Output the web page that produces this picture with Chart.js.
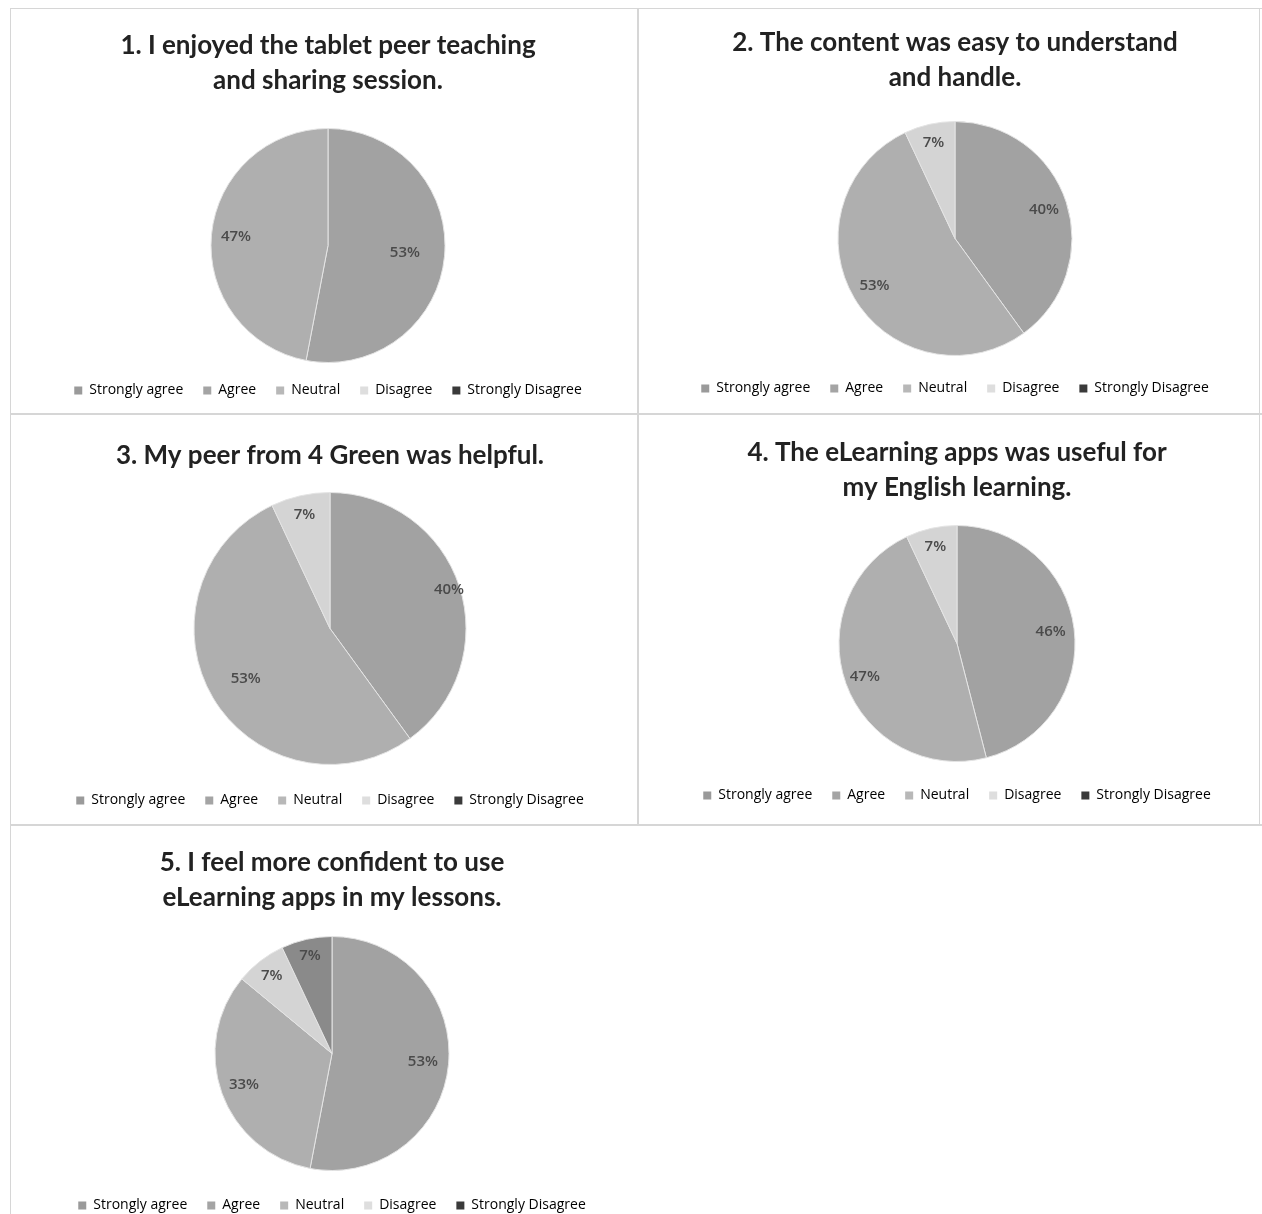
<!DOCTYPE html>
<html>
<head>
<meta charset="utf-8">
<script src="https://cdn.jsdelivr.net/npm/chart.js@4.4.1/dist/chart.umd.min.js"></script>
<style>
  html, body { margin: 0; padding: 0; background: #ffffff; }
  body { width: 1262px; height: 1214px; position: relative; overflow: hidden; }
  .wrap { position: absolute; }
  .line { position: absolute; background: #d6d6d6; }
</style>
</head>
<body>
<div class="line" style="left:10px;top:8px;width:1252px;height:1px;"></div>
<div class="line" style="left:10px;top:413px;width:1252px;height:2px;"></div>
<div class="line" style="left:10px;top:824px;width:1252px;height:2px;"></div>
<div class="line" style="left:10px;top:8px;width:1px;height:1206px;"></div>
<div class="line" style="left:637px;top:8px;width:2px;height:818px;"></div>
<div class="line" style="left:1259px;top:8px;width:1px;height:818px;"></div>

<script>
// ---------- DATA ----------
const categories = ["Strongly agree", "Agree", "Neutral", "Disagree", "Strongly Disagree"];

const titles = [
  ["1. I enjoyed the tablet peer teaching", "and sharing session."],
  ["2. The content was easy to understand", "and handle."],
  ["3. My peer from 4 Green was helpful."],
  ["4. The eLearning apps was useful for", "my English learning."],
  ["5. I feel more confident to use", "eLearning apps in my lessons."]
];

const q1Values = [53, 47, 0, 0, 0];
const q2Values = [40, 53, 0, 7, 0];
const q3Values = [40, 53, 0, 7, 0];
const q4Values = [46, 47, 0, 7, 0];
const q5Values = [53, 33, 0, 7, 7];
const seriesValues = [q1Values, q2Values, q3Values, q4Values, q5Values];

// ---------- STYLE / LAYOUT ----------
const sliceColors = ["#a2a2a2", "#afafaf", "#bdbdbd", "#d4d4d4", "#8a8a8a"];
const legendColors = ["#9a9a9a", "#a4a4a4", "#b8b8b8", "#dedede", "#3a3a3a"];

const layouts = [
  {left: 10,  width: 636, line1Y: 45,  legendY: 390,  pieY: 245,  r: 117, labelR: [0.66, 0.79, 0.8, 0.8, 0.8]},
  {left: 645, width: 620, line1Y: 42,  legendY: 388,  pieY: 238,  r: 117, labelR: [0.8, 0.8, 0.8, 0.84, 0.8]},
  {left: 10,  width: 640, line1Y: 455, legendY: 800,  pieY: 628,  r: 136, labelR: [0.92, 0.72, 0.8, 0.86, 0.8]},
  {left: 637, width: 640, line1Y: 452, legendY: 795,  pieY: 643,  r: 118, labelR: [0.8, 0.83, 0.8, 0.84, 0.8]},
  {left: 12,  width: 640, line1Y: 862, legendY: 1205, pieY: 1053, r: 117, labelR: [0.78, 0.8, 0.8, 0.84, 0.86]}
];

const TITLE_SIZE = 26;
const LH = 35;
const LEGEND_PAD = 20;
const LEGEND_FONT = 14;

const pctLabels = {
  id: 'pctLabels',
  afterDatasetsDraw(chart, args, opts) {
    const ctx = chart.ctx;
    const meta = chart.getDatasetMeta(0);
    const data = chart.data.datasets[0].data;
    ctx.save();
    ctx.font = '600 15px "Open Sans"';
    ctx.fillStyle = '#4a4a4a';
    ctx.textAlign = 'center';
    ctx.textBaseline = 'middle';
    meta.data.forEach((arc, i) => {
      if (!data[i]) return;
      const p = arc.getProps(['x', 'y', 'startAngle', 'endAngle', 'outerRadius'], true);
      const mid = (p.startAngle + p.endAngle) / 2;
      const rr = p.outerRadius * (opts.labelR[i] || 0.8);
      ctx.fillText(data[i] + '%', p.x + Math.cos(mid) * rr, p.y + Math.sin(mid) * rr);
    });
    ctx.restore();
  }
};

seriesValues.forEach((vals, idx) => {
  const L = layouts[idx];
  const lines = titles[idx].length;
  const pt = 4;
  const T = L.line1Y - LH / 2 - pt;
  const bottom = L.legendY + 10 + LEGEND_FONT / 2;
  const H = bottom - T;
  const legendTop = bottom - (LEGEND_FONT + LEGEND_PAD + 10);
  const titleBottom0 = T + pt + lines * LH;
  const pb = Math.max(0, 2 * L.pieY - legendTop - titleBottom0);

  const div = document.createElement('div');
  div.className = 'wrap';
  div.style.left = L.left + 'px';
  div.style.top = T + 'px';
  div.style.width = L.width + 'px';
  div.style.height = H + 'px';
  const cv = document.createElement('canvas');
  div.appendChild(cv);
  document.body.appendChild(div);

  new Chart(cv, {
    type: 'pie',
    data: {
      labels: categories,
      datasets: [{
        data: vals,
        backgroundColor: sliceColors,
        borderColor: '#e4e4e4',
        borderWidth: 1,
        radius: L.r,
        hoverOffset: 0
      }]
    },
    options: {
      responsive: true,
      maintainAspectRatio: false,
      animation: false,
      layout: { padding: 0 },
      plugins: {
        title: {
          display: true,
          text: titles[idx],
          color: '#222222',
          font: { family: 'Lato', size: TITLE_SIZE, weight: 'bold', lineHeight: LH / TITLE_SIZE },
          padding: { top: pt, bottom: pb }
        },
        legend: {
          display: true,
          position: 'bottom',
          labels: {
            boxWidth: 8,
            boxHeight: 8,
            padding: LEGEND_PAD,
            color: '#858585',
            font: { family: 'Open Sans', size: LEGEND_FONT },
            generateLabels(chart) {
              return categories.map((c, i) => ({
                text: c,
                fillStyle: legendColors[i],
                strokeStyle: legendColors[i],
                lineWidth: 0,
                hidden: false,
                index: i
              }));
            }
          }
        },
        tooltip: { enabled: false },
        pctLabels: { labelR: L.labelR }
      }
    },
    plugins: [pctLabels]
  });
});
</script>
</body>
</html>
